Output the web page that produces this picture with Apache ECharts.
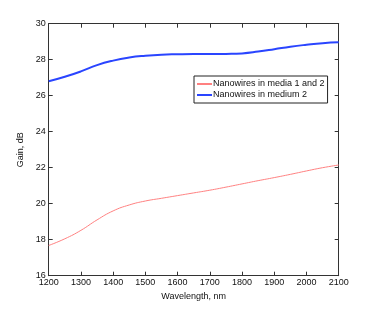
<!DOCTYPE html>
<html><head><meta charset="utf-8">
<script src="https://cdn.jsdelivr.net/npm/echarts@6/dist/echarts.min.js"></script>
<style>html,body{margin:0;padding:0;background:#fff}#c{width:374px;height:310px}</style>
</head><body><div id="c"></div>
<script>
const wavelengths = [1200,1250,1300,1350,1400,1450,1500,1550,1600,1650,1700,1750,1800,1850,1900,1950,2000,2050,2100];
const media12 = [17.68,18.05,18.52,19.1,19.6,19.93,20.15,20.3,20.45,20.6,20.75,20.92,21.1,21.28,21.45,21.63,21.82,22.0,22.15];
const medium2 = [26.8,27.05,27.35,27.7,27.95,28.12,28.22,28.28,28.3,28.31,28.31,28.32,28.35,28.45,28.58,28.72,28.83,28.92,28.97];
const seriesNames = ['Nanowires in media 1 and 2','Nanowires in medium 2'];
const xTitle = 'Wavelength, nm';
const yTitle = 'Gain, dB';

const font = 'Liberation Sans, Arial, sans-serif';
const axisCol = '#333';
const chart = echarts.init(document.getElementById('c'), null, {renderer:'canvas'});
const pair = (arr) => wavelengths.map((w,i)=>[w,arr[i]]);
const common = {
  axisLine:{show:true,lineStyle:{color:axisCol,width:1}},
  axisTick:{show:true,inside:true,length:4,lineStyle:{color:axisCol}},
  splitLine:{show:false}
};
chart.setOption({
  animation:false,
  backgroundColor:'#fff',
  grid:{left:48.7,right:35.3,top:23.7,bottom:34.3,containLabel:false},
  legend:{
    show:true, orient:'vertical', left:194, top:76, padding:[3,3,3,3],
    backgroundColor:'#fff', borderColor:'#222', borderWidth:1, borderRadius:0,
    itemWidth:15, itemHeight:2, itemGap:1, icon:'rect',
    textStyle:{fontFamily:font,fontSize:9,color:'#111',lineHeight:10,padding:[0,0,0,-4]},
    data:seriesNames
  },
  xAxis:[
    Object.assign({type:'value',min:1200,max:2100,interval:100,position:'bottom',
      name:xTitle,nameLocation:'middle',nameGap:12,
      nameTextStyle:{fontFamily:font,fontSize:9,color:'#111'},
      axisLabel:{fontFamily:font,fontSize:9,color:'#111',margin:2,formatter:v=>String(v)}},common),
    Object.assign({type:'value',min:1200,max:2100,interval:100,position:'top',axisLabel:{show:false}},common)
  ],
  yAxis:[
    Object.assign({type:'value',min:16,max:30,interval:2,position:'left',
      name:yTitle,nameLocation:'middle',nameGap:14,
      nameTextStyle:{fontFamily:font,fontSize:9,color:'#111'},
      axisLabel:{fontFamily:font,fontSize:9,color:'#111',margin:3,formatter:v=>String(v)}},common),
    Object.assign({type:'value',min:16,max:30,interval:2,position:'right',axisLabel:{show:false}},common)
  ],
  series:[
    {name:seriesNames[0],type:'line',data:pair(media12),smooth:true,symbol:'none',
      lineStyle:{color:'#ff8080',width:1},itemStyle:{color:'#ff8080'}},
    {name:seriesNames[1],type:'line',data:pair(medium2),smooth:true,symbol:'none',
      lineStyle:{color:'#2a45ff',width:2},itemStyle:{color:'#2a45ff'}}
  ]
});
</script></body></html>
